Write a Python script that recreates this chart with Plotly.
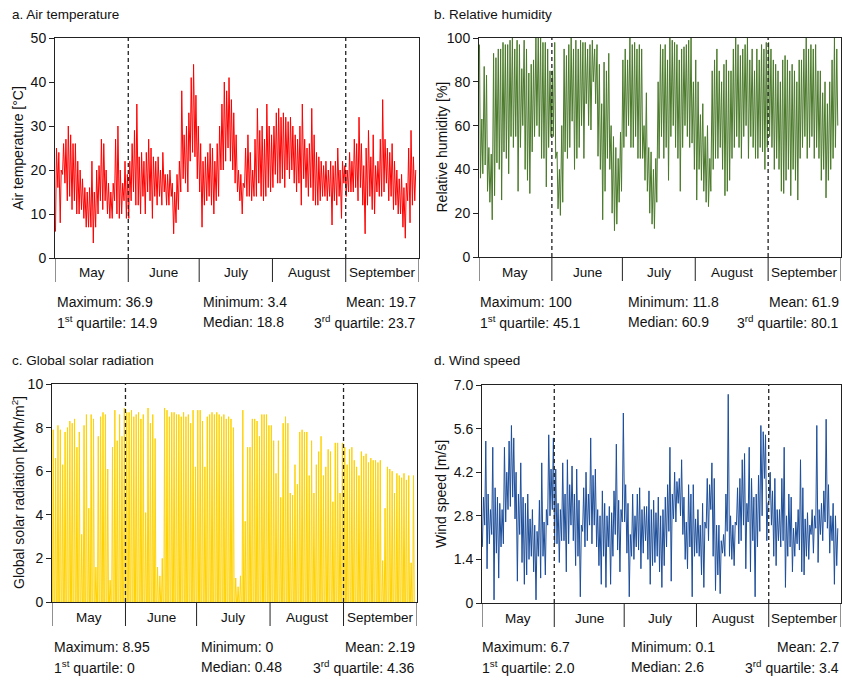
import plotly.graph_objects as go

# ---------------- data ----------------
MONTHS = ["May", "June", "July", "August", "September"]
MONTH_DAYS = [31, 30, 31, 31, 30]

# Air temperature: daily maxima / minima [°C]
temp_max_may = [25, 24, 20, 26, 27, 30, 28, 26, 26, 22, 20, 18, 16, 15, 16, 22, 15, 20, 21, 27, 26, 20, 17, 15, 17, 27, 30, 20, 17, 22, 19]
temp_min_may = [6, 16, 8, 19, 17, 13, 14, 11, 13, 10, 10, 11, 9, 7, 7, 7, 3.4, 7, 10, 13, 11, 13, 10, 9, 9, 13, 10, 9, 10, 13, 9]
temp_max_jun = [22, 26, 29, 35, 23, 24, 22, 24, 27, 25, 23, 22, 23, 20, 24, 19, 19, 20, 17, 15, 19, 22, 38, 28, 30, 33, 41, 44, 37, 30]
temp_min_jun = [9, 13, 15, 12, 12, 10, 14, 10, 15, 13, 9, 14, 12, 14, 12, 15, 12, 12, 14, 5.5, 8, 11, 15, 18, 17, 15, 22, 24, 23, 18]
temp_max_jul = [26, 22, 23, 24, 26, 25, 22, 26, 30, 35, 40, 38, 41, 36, 33, 28, 20, 19, 17, 25, 28, 24, 20, 27, 34, 29, 30, 27, 35, 30, 28]
temp_min_jul = [15, 7, 12, 13, 14, 12, 10, 13, 14, 20, 20, 22, 25, 22, 20, 17, 15, 13, 10, 16, 14, 14, 13, 14, 14, 17, 14, 13, 14, 16, 15]
temp_max_aug = [30, 33, 34, 32, 33, 32, 31, 32, 30, 28, 27, 30, 35, 27, 25, 26, 34, 28, 24, 23, 22, 21, 22, 20, 22, 21, 22, 25, 20, 22, 21]
temp_min_aug = [16, 19, 17, 17, 18, 16, 20, 18, 20, 17, 15, 17, 12, 18, 16, 14, 16, 13, 12, 12, 13, 14, 14, 13, 14, 7.5, 13, 12, 14, 9, 17]
temp_max_sep = [20, 24, 22, 27, 26, 32, 26, 21, 25, 29, 23, 28, 21, 22, 27, 36, 27, 25, 24, 26, 22, 20, 18, 19, 16, 17, 25, 29, 23, 20]
temp_min_sep = [14, 15, 15, 15, 16, 13, 16, 12, 5.5, 12, 14, 11, 10, 15, 14, 14, 15, 17, 13, 14, 11, 12, 10, 10, 7, 4.5, 13, 8, 12, 13]

# Relative humidity: daily maxima / minima [%]
rh_max_may = [97, 63, 87, 83, 50, 47, 93, 91, 95, 95, 98, 97, 97, 99, 100, 95, 99, 97, 86, 99, 95, 84, 88, 90, 100, 100, 100, 98, 98, 95, 85]
rh_min_may = [36, 38, 42, 30, 25, 17, 28, 43, 40, 26, 48, 45, 38, 55, 50, 55, 30, 50, 60, 40, 35, 29, 48, 55, 60, 55, 45, 45, 32, 50, 55]
rh_max_jun = [85, 98, 48, 40, 60, 95, 92, 97, 100, 95, 99, 95, 99, 98, 98, 95, 97, 99, 95, 97, 88, 70, 89, 85, 93, 60, 55, 50, 45, 57]
rh_min_jun = [55, 45, 22, 19, 25, 48, 45, 50, 62, 40, 45, 50, 60, 45, 70, 60, 58, 80, 70, 46, 40, 17, 30, 45, 40, 20, 12, 15, 25, 30]
rh_max_jul = [90, 95, 90, 100, 97, 98, 95, 97, 95, 60, 75, 50, 48, 40, 45, 80, 97, 95, 97, 90, 100, 99, 98, 97, 90, 95, 96, 97, 99, 100, 80]
rh_min_jul = [50, 55, 60, 50, 50, 55, 45, 45, 45, 35, 30, 20, 15, 13, 25, 45, 55, 45, 50, 35, 55, 60, 50, 45, 30, 50, 60, 55, 50, 52, 40]
rh_max_aug = [90, 80, 65, 70, 55, 60, 45, 85, 90, 95, 85, 80, 88, 90, 85, 85, 95, 100, 97, 92, 95, 97, 100, 90, 95, 85, 95, 90, 97, 95, 98]
rh_min_aug = [26, 40, 35, 30, 25, 23, 30, 40, 45, 45, 50, 40, 28, 30, 35, 45, 50, 55, 50, 45, 55, 60, 45, 55, 50, 45, 45, 50, 48, 40, 50]
rh_max_sep = [98, 95, 90, 88, 85, 80, 90, 92, 90, 85, 88, 85, 80, 90, 90, 95, 100, 95, 97, 95, 97, 85, 85, 75, 80, 70, 80, 90, 100, 95]
rh_min_sep = [55, 50, 40, 45, 40, 30, 29, 35, 40, 28, 40, 35, 26, 45, 50, 55, 45, 50, 55, 45, 50, 45, 35, 40, 27, 35, 40, 45, 50, 60]

# Global solar radiation: daily peak values [kWh/m2] (zero at night)
sol_peak_may = [7.9, 6.6, 8.1, 7.9, 6.3, 7.8, 8.0, 8.3, 8.2, 8.4, 7.1, 7.8, 3.1, 8.1, 8.6, 4.3, 8.6, 8.4, 1.6, 7.6, 8.5, 8.7, 8.6, 6.1, 1.0, 7.1, 8.8, 7.4, 8.6, 7.6, 8.9]
sol_peak_jun = [8.7, 8.7, 8.8, 8.5, 8.6, 8.7, 8.4, 8.6, 4.1, 8.9, 8.2, 8.6, 7.5, 1.6, 1.2, 2.0, 8.9, 8.8, 8.5, 8.7, 8.7, 8.6, 8.6, 8.5, 8.7, 8.5, 8.6, 8.2, 8.8, 6.2]
sol_peak_jul = [8.8, 8.8, 8.3, 6.2, 8.5, 8.6, 8.7, 8.6, 8.7, 8.6, 8.5, 8.6, 8.4, 8.5, 8.4, 8.0, 1.1, 0.7, 1.2, 8.8, 3.7, 7.1, 7.1, 8.4, 8.4, 8.3, 7.6, 8.6, 8.6, 8.6, 8.1]
sol_peak_aug = [8.1, 7.4, 5.9, 7.4, 4.8, 8.2, 8.5, 8.2, 5.0, 4.9, 6.3, 5.4, 7.8, 7.9, 7.8, 7.8, 5.8, 7.4, 5.0, 6.3, 6.9, 7.6, 5.8, 6.2, 7.0, 6.9, 4.6, 7.3, 7.3, 5.0, 7.3]
sol_peak_sep = [7.1, 6.3, 7.0, 7.1, 6.5, 6.2, 5.8, 6.9, 6.7, 6.8, 6.4, 6.6, 6.5, 6.5, 6.4, 6.5, 1.9, 4.3, 6.2, 6.1, 6.0, 5.0, 5.9, 5.8, 5.7, 5.9, 5.6, 5.8, 1.8, 5.8]

# Wind speed: daytime high / nighttime low [m/s]
wind_hi_may = [3.4, 5.2, 3.5, 3.0, 5.0, 3.7, 3.4, 3.2, 3.0, 5.0, 4.2, 5.2, 5.7, 5.3, 4.2, 3.5, 4.5, 3.4, 3.2, 3.5, 2.7, 3.0, 2.5, 2.3, 3.3, 4.5, 2.6, 3.0, 5.4, 4.3, 5.3]
wind_lo_may = [1.8, 2.5, 1.1, 1.9, 2.2, 0.1, 1.6, 0.8, 1.8, 1.9, 2.6, 3.0, 3.1, 3.4, 2.7, 0.7, 2.2, 1.3, 0.6, 0.9, 1.4, 1.5, 1.0, 0.1, 1.5, 0.8, 1.5, 0.9, 2.5, 2.8, 3.0]
wind_hi_jun = [4.3, 3.2, 3.0, 4.5, 3.5, 4.6, 3.8, 4.4, 3.5, 4.3, 3.3, 2.5, 3.7, 4.2, 3.5, 5.3, 4.1, 4.3, 3.0, 2.8, 3.6, 3.2, 2.8, 3.1, 2.9, 3.6, 5.1, 3.3, 3.0, 6.1]
wind_lo_jun = [1.9, 1.9, 1.3, 2.0, 2.0, 1.0, 1.9, 2.5, 2.0, 1.2, 1.5, 0.2, 2.3, 1.8, 2.0, 2.5, 1.9, 2.5, 1.8, 1.2, 0.6, 1.5, 0.5, 1.8, 0.6, 1.5, 2.2, 1.7, 1.0, 2.6]
wind_hi_jul = [3.8, 3.2, 2.2, 3.5, 2.8, 3.5, 3.7, 3.0, 3.1, 3.1, 3.6, 3.0, 3.3, 2.9, 3.4, 2.8, 3.0, 3.4, 3.8, 5.0, 3.5, 4.2, 3.9, 4.0, 4.6, 3.4, 2.6, 3.8, 3.5, 3.8, 2.7]
wind_lo_jul = [2.6, 1.6, 0.2, 1.5, 1.4, 1.8, 1.7, 1.1, 1.6, 2.0, 1.4, 0.6, 1.2, 1.3, 1.5, 1.0, 0.5, 1.2, 1.8, 2.3, 0.7, 2.7, 2.6, 3.2, 2.8, 2.2, 1.4, 1.1, 1.8, 0.2, 1.5]
wind_hi_aug = [3.0, 2.5, 3.2, 2.6, 4.0, 3.8, 4.5, 4.0, 2.5, 2.5, 2.0, 2.2, 3.5, 6.7, 2.8, 2.5, 2.6, 3.7, 4.0, 4.6, 4.8, 3.2, 5.0, 4.0, 3.4, 3.5, 4.1, 5.7, 5.5, 5.4, 3.2]
wind_lo_aug = [1.6, 1.5, 0.9, 0.5, 2.4, 2.0, 3.0, 1.5, 0.4, 0.9, 0.3, 1.6, 1.5, 2.3, 1.5, 1.4, 1.2, 2.5, 1.9, 2.0, 2.5, 1.1, 2.6, 1.0, 2.0, 0.2, 1.8, 2.3, 2.8, 4.0, 2.0]
wind_hi_sep = [4.2, 3.6, 4.0, 3.0, 3.0, 4.0, 5.0, 2.8, 3.5, 3.4, 2.4, 2.6, 3.0, 4.6, 3.7, 2.7, 2.9, 2.5, 3.0, 2.8, 5.7, 3.0, 3.2, 3.6, 5.9, 3.8, 2.8, 3.2, 2.8, 2.4]
wind_lo_sep = [3.3, 2.5, 1.5, 1.2, 2.0, 1.8, 2.0, 0.5, 1.5, 1.8, 1.0, 1.5, 1.9, 1.7, 1.0, 0.9, 1.5, 1.4, 2.2, 1.6, 2.4, 1.3, 2.2, 2.0, 2.6, 2.4, 1.6, 2.0, 0.6, 1.2]

# Summary statistics shown under each panel
stats_temp = ["36.9", "3.4", "19.7", "14.9", "18.8", "23.7"]
stats_rh = ["100", "11.8", "61.9", "45.1", "60.9", "80.1"]
stats_sol = ["8.95", "0", "2.19", "0", "0.48", "4.36"]
stats_wind = ["6.7", "0.1", "2.7", "2.0", "2.6", "3.4"]

# ---------------- assemble series ----------------
def cat(*parts):
    out = []
    for p, n in zip(parts, MONTH_DAYS):
        assert len(p) == n, (len(p), n)
        out += p
    return out

temp_max = cat(temp_max_may, temp_max_jun, temp_max_jul, temp_max_aug, temp_max_sep)
temp_min = cat(temp_min_may, temp_min_jun, temp_min_jul, temp_min_aug, temp_min_sep)
rh_max = cat(rh_max_may, rh_max_jun, rh_max_jul, rh_max_aug, rh_max_sep)
rh_min = cat(rh_min_may, rh_min_jun, rh_min_jul, rh_min_aug, rh_min_sep)
sol_peak = cat(sol_peak_may, sol_peak_jun, sol_peak_jul, sol_peak_aug, sol_peak_sep)
wind_hi = cat(wind_hi_may, wind_hi_jun, wind_hi_jul, wind_hi_aug, wind_hi_sep)
wind_lo = cat(wind_lo_may, wind_lo_jun, wind_lo_jul, wind_lo_aug, wind_lo_sep)
NDAYS = len(temp_max)

def two_per_day(first, second, h1, h2):
    xs, ys = [], []
    for d in range(NDAYS):
        xs += [d + h1 / 24, d + h2 / 24]
        ys += [first[d], second[d]]
    return xs, ys

tx, ty = two_per_day(temp_min, temp_max, 5, 15)
hx, hy = two_per_day(rh_max, rh_min, 5, 15)
wx, wy = two_per_day(wind_lo, wind_hi, 4, 15)
sx, sy = [], []
for d in range(NDAYS):
    sx += [d + 5 / 24, d + 12.5 / 24, d + 20 / 24]
    sy += [0, sol_peak[d], 0]

# ---------------- layout ----------------
W, H = 842, 680
FONT = "Arial, Liberation Sans, sans-serif"
XMAX = 154

def fx(p):
    return p / W

def fy(p):
    return 1 - p / H

panels = [
    dict(ax="", xd=(55, 419), yd=(38, 258), title="a. Air temperature", tpos=(10, 14),
         ytitle="Air temperature [°C]", ytx=18, yr=[0, 50], tv=[0, 10, 20, 30, 40, 50], tt=None,
         sx=(55, 201, 418), sy=(302, 322), stats=stats_temp),
    dict(ax="2", xd=(479, 841), yd=(38, 257), title="b. Relative humidity", tpos=(432, 14),
         ytitle="Relative humidity [%]", ytx=441, yr=[0, 100], tv=[0, 20, 40, 60, 80, 100], tt=None,
         sx=(478, 626, 841), sy=(302, 322), stats=stats_rh),
    dict(ax="3", xd=(52, 417), yd=(384, 602), title="c. Global solar radiation", tpos=(10, 360),
         ytitle="Global solar radiation [kWh/m<sup>2</sup>]", ytx=18, yr=[0, 10],
         tv=[0, 2, 4, 6, 8, 10], tt=None,
         sx=(52, 199, 417), sy=(647, 667), stats=stats_sol),
    dict(ax="4", xd=(482, 841), yd=(385, 603), title="d. Wind speed", tpos=(432, 360),
         ytitle="Wind speed [m/s]", ytx=441, yr=[0, 7], tv=[0, 1.4, 2.8, 4.2, 5.6, 7.0],
         tt=["0", "1.4", "2.8", "4.2", "5.6", "7.0"],
         sx=(480, 629, 841), sy=(647, 667), stats=stats_wind),
]

fig = go.Figure()
series = [(tx, ty, "#FF0000"), (hx, hy, "#4A7A2A"), (sx, sy, "#FFD200"), (wx, wy, "#1D4E9A")]
for p, (xs, ys, col) in zip(panels, series):
    fig.add_trace(go.Scatter(x=xs, y=ys, mode="lines", line=dict(color=col, width=1),
                             xaxis="x" + p["ax"], yaxis="y" + p["ax"], showlegend=False,
                             hoverinfo="skip"))

layout = dict(width=W, height=H, margin=dict(l=0, r=0, t=0, b=0),
              paper_bgcolor="white", plot_bgcolor="white",
              font=dict(family=FONT, size=14, color="#111111"), showlegend=False)
annotations, shapes = [], []
bounds = [0]
for n in MONTH_DAYS:
    bounds.append(bounds[-1] + n)
bounds[-1] = XMAX

for p in panels:
    a = p["ax"]
    xa, ya = "x" + a, "y" + a
    ph = p["yd"][1] - p["yd"][0]
    band = 24 / ph
    layout["xaxis" + a] = dict(domain=[fx(p["xd"][0]), fx(p["xd"][1])], anchor=ya, range=[0, XMAX],
                               showline=True, mirror=True, linecolor="#222", linewidth=1,
                               showticklabels=False, ticks="", showgrid=False, zeroline=False,
                               fixedrange=True)
    ydict = dict(domain=[fy(p["yd"][1]), fy(p["yd"][0])], anchor=xa, range=p["yr"],
                 tickvals=p["tv"], showline=True, mirror=True, linecolor="#222", linewidth=1,
                 ticks="outside", ticklen=5, tickcolor="#222", showgrid=False, zeroline=False,
                 automargin=False, tickfont=dict(size=14), fixedrange=True)
    if p["tt"]:
        ydict["ticktext"] = p["tt"]
    layout["yaxis" + a] = ydict
    # y-axis title (rotated)
    annotations.append(dict(text=p["ytitle"], xref="paper", yref=ya + " domain",
                            x=fx(p["ytx"]), y=0.5, textangle=-90, showarrow=False,
                            xanchor="center", yanchor="middle", font=dict(size=14)))
    # month band dividers
    for b in bounds:
        shapes.append(dict(type="line", xref=xa, yref=ya + " domain", x0=b, x1=b, y0=0, y1=-band,
                           line=dict(color="#222", width=1)))
    # dashed separators (start of June and September)
    for b in (bounds[1], bounds[4]):
        shapes.append(dict(type="line", xref=xa, yref=ya + " domain", x0=b, x1=b, y0=0, y1=1,
                           line=dict(color="#222", width=1.3, dash="4px,3px")))
    for i, m in enumerate(MONTHS):
        annotations.append(dict(text=m, xref=xa, yref=ya + " domain",
                                x=(bounds[i] + bounds[i + 1]) / 2, y=-15 / ph,
                                showarrow=False, xanchor="center", yanchor="middle",
                                font=dict(size=13.5)))
    # panel title
    annotations.append(dict(text=p["title"], xref="paper", yref="paper",
                            x=fx(p["tpos"][0]), y=fy(p["tpos"][1]), showarrow=False,
                            xanchor="left", yanchor="middle", font=dict(size=13.5)))
    # statistics
    s = p["stats"]
    rows = [("Maximum: " + s[0], "Minimum: " + s[1], "Mean: " + s[2]),
            ("1<sup>st</sup> quartile: " + s[3], "Median: " + s[4], "3<sup>rd</sup> quartile: " + s[5])]
    for r, row in enumerate(rows):
        yy = fy(p["sy"][r])
        for c, txt in enumerate(row):
            annotations.append(dict(text=txt, xref="paper", yref="paper", x=fx(p["sx"][c]), y=yy,
                                    showarrow=False, xanchor="right" if c == 2 else "left",
                                    yanchor="middle", font=dict(size=14)))

layout["annotations"] = annotations
layout["shapes"] = shapes
fig.update_layout(**layout)
fig.write_html("out.html", config={"displayModeBar": False},
               post_script="document.body.style.margin='0px';")
